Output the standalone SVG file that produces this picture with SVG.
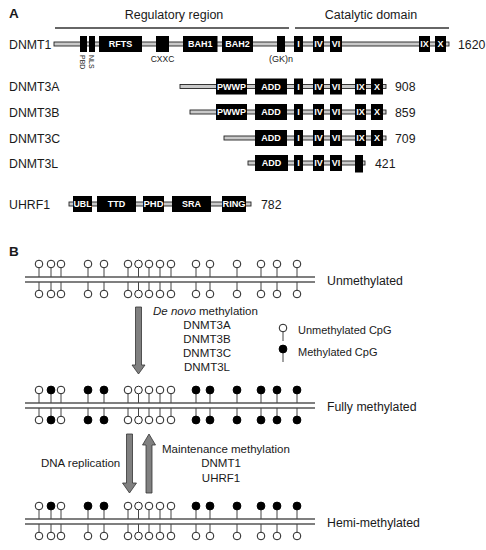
<svg xmlns="http://www.w3.org/2000/svg" xmlns:xlink="http://www.w3.org/1999/xlink" width="486" height="550" viewBox="0 0 486 550">
<style>
text{font-family:"Liberation Sans",Arial,sans-serif;fill:#1a1a1a}
.hd{font-size:12.5px}
.lab{font-size:12.3px}
.num{font-size:12.3px}
.pl{font-weight:bold;font-size:13.5px}
.bx{fill:#000}
.bb{fill:#c9c9c9;stroke:#222;stroke-width:0.9}
.bt{font-size:9px;font-weight:bold;fill:#fff;text-anchor:middle}
.sm{font-size:8.5px}
.bl{font-size:12.3px}
.ar{font-size:11.5px}
.strand{stroke:#555;stroke-width:1.6}
.arrow{fill:#808080;stroke:#333;stroke-width:0.8}
.ov{stroke:#333;stroke-width:1.3}
</style>
<defs>
<g id="ot"><line x1="0" y1="-9" x2="0" y2="0" stroke="#444" stroke-width="1"/><circle cx="0" cy="-13" r="3.8" fill="#fff" stroke="#222" stroke-width="1"/></g>
<g id="ft"><line x1="0" y1="-9" x2="0" y2="0" stroke="#444" stroke-width="1"/><circle cx="0" cy="-13" r="3.9" fill="#000" stroke="#000" stroke-width="1"/></g>
<g id="ob"><line x1="0" y1="0" x2="0" y2="8" stroke="#444" stroke-width="1"/><circle cx="0" cy="12" r="3.8" fill="#fff" stroke="#222" stroke-width="1"/></g>
<g id="fb"><line x1="0" y1="0" x2="0" y2="8" stroke="#444" stroke-width="1"/><circle cx="0" cy="12" r="3.9" fill="#000" stroke="#000" stroke-width="1"/></g>
</defs>

<!-- Panel A -->
<g id="panelA-headers">
<text class="pl" x="9" y="18">A</text>
<text class="hd" x="174" y="19" text-anchor="middle">Regulatory region</text>
<line class="ov" x1="55" y1="28" x2="289" y2="28"/>
<text class="hd" x="371" y="19" text-anchor="middle">Catalytic domain</text>
<line class="ov" x1="295" y1="28" x2="449" y2="28"/>
</g>

<g id="DNMT1">
<text class="lab" x="9" y="48.5">DNMT1</text>
<rect class="bb" x="54" y="42" width="395" height="4"/>
<rect class="bx" x="80" y="36" width="7" height="16"/>
<rect class="bx" x="89" y="36" width="6" height="16"/>
<rect class="bx" x="99" y="36" width="43" height="16"/>
<text class="bt" x="120.5" y="47.3">RFTS</text>
<rect class="bx" x="156" y="36" width="13" height="16"/>
<rect class="bx" x="183" y="36" width="34.5" height="16"/>
<text class="bt" x="200.2" y="47.3">BAH1</text>
<rect class="bx" x="222" y="36" width="31" height="16"/>
<text class="bt" x="237.5" y="47.3">BAH2</text>
<rect class="bx" x="277" y="36" width="8" height="16"/>
<rect class="bx" x="294" y="36" width="9" height="16"/>
<text class="bt" x="298.5" y="47.3">I</text>
<rect class="bx" x="313" y="36" width="11" height="16"/>
<text class="bt" x="318.5" y="47.3">IV</text>
<rect class="bx" x="330" y="36" width="12" height="16"/>
<text class="bt" x="336" y="47.3">VI</text>
<rect class="bx" x="419" y="36" width="11" height="16"/>
<text class="bt" x="424.5" y="47.3">IX</text>
<rect class="bx" x="435" y="36" width="11" height="16"/>
<text class="bt" x="440.5" y="47.3">X</text>
<text class="num" x="458" y="48.5">1620</text>
<text class="sm" transform="translate(79.5,55) rotate(90)" style="font-size:7px">PBD</text>
<text class="sm" transform="translate(89,55) rotate(90)" style="font-size:7px">NLS</text>
<text class="sm" x="162.5" y="62" text-anchor="middle">CXXC</text>
<text class="sm" x="281" y="62" text-anchor="middle" style="font-size:9px">(GK)n</text>
</g>

<g id="DNMT3A">
<text class="lab" x="9" y="91">DNMT3A</text>
<rect class="bb" x="180" y="84.5" width="206" height="4"/>
<rect class="bx" x="216" y="78.5" width="31" height="16"/>
<text class="bt" x="231.5" y="89.8" textLength="29" lengthAdjust="spacingAndGlyphs">PWWP</text>
<rect class="bx" x="255" y="78.5" width="32" height="16"/>
<text class="bt" x="271" y="89.8">ADD</text>
<rect class="bx" x="294" y="78.5" width="9" height="16"/>
<text class="bt" x="298.5" y="89.8">I</text>
<rect class="bx" x="313" y="78.5" width="11" height="16"/>
<text class="bt" x="318.5" y="89.8">IV</text>
<rect class="bx" x="330" y="78.5" width="12" height="16"/>
<text class="bt" x="336" y="89.8">VI</text>
<rect class="bx" x="355" y="78.5" width="11" height="16"/>
<text class="bt" x="360.5" y="89.8">IX</text>
<rect class="bx" x="371" y="78.5" width="12" height="16"/>
<text class="bt" x="377" y="89.8">X</text>
<text class="num" x="395" y="91">908</text>
</g>

<g id="DNMT3B">
<text class="lab" x="9" y="116.5">DNMT3B</text>
<rect class="bb" x="190" y="110" width="196" height="4"/>
<rect class="bx" x="216" y="104" width="31" height="16"/>
<text class="bt" x="231.5" y="115.3" textLength="29" lengthAdjust="spacingAndGlyphs">PWWP</text>
<rect class="bx" x="255" y="104" width="32" height="16"/>
<text class="bt" x="271" y="115.3">ADD</text>
<rect class="bx" x="294" y="104" width="9" height="16"/>
<text class="bt" x="298.5" y="115.3">I</text>
<rect class="bx" x="313" y="104" width="11" height="16"/>
<text class="bt" x="318.5" y="115.3">IV</text>
<rect class="bx" x="330" y="104" width="12" height="16"/>
<text class="bt" x="336" y="115.3">VI</text>
<rect class="bx" x="355" y="104" width="11" height="16"/>
<text class="bt" x="360.5" y="115.3">IX</text>
<rect class="bx" x="371" y="104" width="12" height="16"/>
<text class="bt" x="377" y="115.3">X</text>
<text class="num" x="395" y="116.5">859</text>
</g>

<g id="DNMT3C">
<text class="lab" x="9" y="142.5">DNMT3C</text>
<rect class="bb" x="224" y="136" width="162" height="4"/>
<rect class="bx" x="255" y="130" width="32" height="16"/>
<text class="bt" x="271" y="141.3">ADD</text>
<rect class="bx" x="294" y="130" width="9" height="16"/>
<text class="bt" x="298.5" y="141.3">I</text>
<rect class="bx" x="313" y="130" width="11" height="16"/>
<text class="bt" x="318.5" y="141.3">IV</text>
<rect class="bx" x="330" y="130" width="12" height="16"/>
<text class="bt" x="336" y="141.3">VI</text>
<rect class="bx" x="355" y="130" width="11" height="16"/>
<text class="bt" x="360.5" y="141.3">IX</text>
<rect class="bx" x="371" y="130" width="12" height="16"/>
<text class="bt" x="377" y="141.3">X</text>
<text class="num" x="395" y="142.5">709</text>
</g>

<g id="DNMT3L">
<text class="lab" x="9" y="167.5">DNMT3L</text>
<rect class="bb" x="248" y="161" width="117" height="4"/>
<rect class="bx" x="255" y="155" width="33" height="16"/>
<text class="bt" x="271.5" y="166.3">ADD</text>
<rect class="bx" x="294" y="155" width="9" height="16"/>
<text class="bt" x="298.5" y="166.3">I</text>
<rect class="bx" x="313" y="155" width="11" height="16"/>
<text class="bt" x="318.5" y="166.3">IV</text>
<rect class="bx" x="330" y="155" width="12" height="16"/>
<text class="bt" x="336" y="166.3">VI</text>
<rect class="bx" x="355" y="155" width="8" height="17.5"/>
<text class="num" x="375" y="167.5">421</text>
</g>

<g id="UHRF1">
<text class="lab" x="9" y="208.5">UHRF1</text>
<rect class="bb" x="69" y="202" width="182" height="4"/>
<rect class="bx" x="73" y="196" width="19" height="16"/>
<text class="bt" x="82.5" y="207.3" textLength="18" lengthAdjust="spacingAndGlyphs">UBL</text>
<rect class="bx" x="97" y="196" width="39" height="16"/>
<text class="bt" x="116.5" y="207.3">TTD</text>
<rect class="bx" x="143" y="196" width="21" height="16"/>
<text class="bt" x="153.5" y="207.3" textLength="20" lengthAdjust="spacingAndGlyphs">PHD</text>
<rect class="bx" x="172" y="196" width="39" height="16"/>
<text class="bt" x="191.5" y="207.3">SRA</text>
<rect class="bx" x="222" y="196" width="24" height="16"/>
<text class="bt" x="234" y="207.3" textLength="23" lengthAdjust="spacingAndGlyphs">RING</text>
<text class="num" x="261" y="208.5">782</text>
</g>

<!-- Panel B -->
<text class="pl" x="9" y="256">B</text>

<g id="unmethylated">
<line class="strand" x1="25" y1="277" x2="315" y2="277"/>
<line class="strand" x1="25" y1="282" x2="315" y2="282"/>
<use xlink:href="#ot" x="39" y="277"/><use xlink:href="#ot" x="51" y="277"/><use xlink:href="#ot" x="61" y="277"/>
<use xlink:href="#ot" x="88" y="277"/><use xlink:href="#ot" x="104" y="277"/>
<use xlink:href="#ot" x="128" y="277"/><use xlink:href="#ot" x="138.5" y="277"/><use xlink:href="#ot" x="149" y="277"/><use xlink:href="#ot" x="160" y="277"/><use xlink:href="#ot" x="171" y="277"/>
<use xlink:href="#ot" x="196" y="277"/><use xlink:href="#ot" x="210" y="277"/><use xlink:href="#ot" x="237" y="277"/>
<use xlink:href="#ot" x="261" y="277"/><use xlink:href="#ot" x="277" y="277"/><use xlink:href="#ot" x="297" y="277"/>
<use xlink:href="#ob" x="39" y="282"/><use xlink:href="#ob" x="51" y="282"/><use xlink:href="#ob" x="61" y="282"/>
<use xlink:href="#ob" x="88" y="282"/><use xlink:href="#ob" x="104" y="282"/>
<use xlink:href="#ob" x="128" y="282"/><use xlink:href="#ob" x="138.5" y="282"/><use xlink:href="#ob" x="149" y="282"/><use xlink:href="#ob" x="160" y="282"/><use xlink:href="#ob" x="171" y="282"/>
<use xlink:href="#ob" x="196" y="282"/><use xlink:href="#ob" x="210" y="282"/><use xlink:href="#ob" x="237" y="282"/>
<use xlink:href="#ob" x="261" y="282"/><use xlink:href="#ob" x="277" y="282"/><use xlink:href="#ob" x="297" y="282"/>
<text class="bl" x="327" y="285">Unmethylated</text>
</g>

<g id="fully-methylated">
<line class="strand" x1="25" y1="403" x2="315" y2="403"/>
<line class="strand" x1="25" y1="408" x2="315" y2="408"/>
<use xlink:href="#ot" x="39" y="403"/><use xlink:href="#ft" x="51" y="403"/><use xlink:href="#ot" x="61" y="403"/>
<use xlink:href="#ft" x="88" y="403"/><use xlink:href="#ft" x="104" y="403"/>
<use xlink:href="#ot" x="128" y="403"/><use xlink:href="#ot" x="138.5" y="403"/><use xlink:href="#ot" x="149" y="403"/><use xlink:href="#ot" x="160" y="403"/><use xlink:href="#ot" x="171" y="403"/>
<use xlink:href="#ft" x="196" y="403"/><use xlink:href="#ft" x="210" y="403"/><use xlink:href="#ft" x="237" y="403"/>
<use xlink:href="#ft" x="261" y="403"/><use xlink:href="#ft" x="277" y="403"/><use xlink:href="#ft" x="297" y="403"/>
<use xlink:href="#ob" x="39" y="408"/><use xlink:href="#fb" x="51" y="408"/><use xlink:href="#ob" x="61" y="408"/>
<use xlink:href="#fb" x="88" y="408"/><use xlink:href="#fb" x="104" y="408"/>
<use xlink:href="#ob" x="128" y="408"/><use xlink:href="#ob" x="138.5" y="408"/><use xlink:href="#ob" x="149" y="408"/><use xlink:href="#ob" x="160" y="408"/><use xlink:href="#ob" x="171" y="408"/>
<use xlink:href="#fb" x="196" y="408"/><use xlink:href="#fb" x="210" y="408"/><use xlink:href="#fb" x="237" y="408"/>
<use xlink:href="#fb" x="261" y="408"/><use xlink:href="#fb" x="277" y="408"/><use xlink:href="#fb" x="297" y="408"/>
<text class="bl" x="327" y="411">Fully methylated</text>
</g>

<g id="hemi-methylated">
<line class="strand" x1="25" y1="519" x2="315" y2="519"/>
<line class="strand" x1="25" y1="524" x2="315" y2="524"/>
<use xlink:href="#ot" x="39" y="519"/><use xlink:href="#ft" x="51" y="519"/><use xlink:href="#ot" x="61" y="519"/>
<use xlink:href="#ft" x="88" y="519"/><use xlink:href="#ft" x="104" y="519"/>
<use xlink:href="#ot" x="128" y="519"/><use xlink:href="#ot" x="138.5" y="519"/><use xlink:href="#ot" x="149" y="519"/><use xlink:href="#ot" x="160" y="519"/><use xlink:href="#ot" x="171" y="519"/>
<use xlink:href="#ft" x="196" y="519"/><use xlink:href="#ft" x="210" y="519"/><use xlink:href="#ft" x="237" y="519"/>
<use xlink:href="#ft" x="261" y="519"/><use xlink:href="#ft" x="277" y="519"/><use xlink:href="#ft" x="297" y="519"/>
<use xlink:href="#ob" x="39" y="524"/><use xlink:href="#ob" x="51" y="524"/><use xlink:href="#ob" x="61" y="524"/>
<use xlink:href="#ob" x="88" y="524"/><use xlink:href="#ob" x="104" y="524"/>
<use xlink:href="#ob" x="128" y="524"/><use xlink:href="#ob" x="138.5" y="524"/><use xlink:href="#ob" x="149" y="524"/><use xlink:href="#ob" x="160" y="524"/><use xlink:href="#ob" x="171" y="524"/>
<use xlink:href="#ob" x="196" y="524"/><use xlink:href="#ob" x="210" y="524"/><use xlink:href="#ob" x="237" y="524"/>
<use xlink:href="#ob" x="261" y="524"/><use xlink:href="#ob" x="277" y="524"/><use xlink:href="#ob" x="297" y="524"/>
<text class="bl" x="327" y="527">Hemi-methylated</text>
</g>

<g id="legend">
<use xlink:href="#ot" x="283" y="341"/>
<text class="ar" x="298" y="334" style="font-size:11px">Unmethylated CpG</text>
<use xlink:href="#ft" x="283" y="362"/>
<text class="ar" x="298" y="356" style="font-size:11px">Methylated CpG</text>
</g>

<g id="connectors">
<path class="arrow" d="M135.5,307 H141.5 V365 H145 L138.5,374 L132,365 H135.5 Z"/>
<path class="arrow" d="M126.5,434 H132.5 V483 H136.5 L129.5,493 L122.5,483 H126.5 Z"/>
<path class="arrow" d="M146,493 H152 V445 H155.5 L149,434 L142.5,445 H146 Z"/>
</g>

<g id="labels-B">
<text class="ar" x="153" y="315"><tspan font-style="italic">De novo</tspan> methylation</text>
<text class="ar" x="207" y="329" text-anchor="middle">DNMT3A</text>
<text class="ar" x="207" y="343" text-anchor="middle">DNMT3B</text>
<text class="ar" x="207" y="357" text-anchor="middle">DNMT3C</text>
<text class="ar" x="207" y="371" text-anchor="middle">DNMT3L</text>
<text class="ar" x="41" y="467">DNA replication</text>
<text class="ar" x="162" y="453">Maintenance methylation</text>
<text class="ar" x="221" y="467" text-anchor="middle">DNMT1</text>
<text class="ar" x="221" y="482" text-anchor="middle">UHRF1</text>
</g>
</svg>
